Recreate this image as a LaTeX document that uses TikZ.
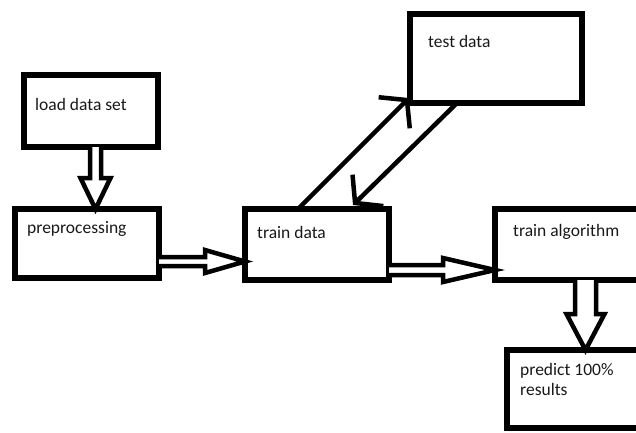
\documentclass[tikz,border=0pt]{standalone}
\usepackage{fontspec}
\setmainfont{Carlito}
\usetikzlibrary{calc,arrows.meta}
\tikzset{
  box/.style={draw=black, line width=5.5pt, minimum width=#1, inner sep=0pt, outer sep=0pt, rectangle},
  lbl/.style={anchor=base west, inner sep=0pt, font=\fontsize{17.5}{20}\selectfont, text=black!90, align=left},
  hollow/.style={draw=black, fill=white, line width=4.5pt, line join=miter},
  diag/.style={draw=black, line width=4.5pt, -{Straight Barb[length=18pt,width=44pt]}},
}
\newcommand\hollowdown[5]{%
  \draw[hollow] let \p1=(#1), \p2=(#2) in
    ({\x1-#3},{\y1}) -- ({\x1-#3},{\y2+#5}) -- ({\x1-#4},{\y2+#5}) -- ({\x1},{\y2})
    -- ({\x1+#4},{\y2+#5}) -- ({\x1+#3},{\y2+#5}) -- ({\x1+#3},{\y1});}
\newcommand\hollowright[5]{%
  \draw[hollow] let \p1=(#1), \p2=(#2) in
    ({\x1},{\y1+#3}) -- ({\x2-#5},{\y1+#3}) -- ({\x2-#5},{\y1+#4}) -- ({\x2},{\y1})
    -- ({\x2-#5},{\y1-#4}) -- ({\x2-#5},{\y1-#3}) -- ({\x1},{\y1-#3});}
\begin{document}
\begin{tikzpicture}[x=1pt,y=-1pt]
\useasboundingbox (0,0) rectangle (636,432);
\clip (0,0) rectangle (636,432);
\fill[white] (0,0) rectangle (636,432);
% boxes
\node[box=134pt, minimum height=72pt] (load) at (91,111) {};
\node[box=144pt, minimum height=69pt] (prep) at (87,243.5) {};
\node[box=144pt, minimum height=71pt] (train) at (317,244.5) {};
\node[box=172pt, minimum height=89pt] (test) at (496,58.5) {};
\node[box=165pt, minimum height=71pt] (algo) at (577.5,244.5) {};
\node[box=153pt, minimum height=78pt] (pred) at (583.5,389) {};
% labels
\node[lbl] (tload) at ($(load.north west)+(11,35)$) {load data set};
\node[lbl] (tprep) at ($(prep.north west)+(12,24)$) {preprocessing};
\node[lbl] (ttrain) at ($(train.north west)+(12,29)$) {train data};
\node[lbl] (ttest) at ($(test.north west)+(18,33)$) {test data};
\node[lbl] (talgo) at ($(algo.north west)+(18,27)$) {train algorithm};
\node[lbl] (tpred) at ($(pred.north west)+(13,45)$) {predict 100\%\\results};
% hollow arrows
\hollowdown{$(load.south)+(4.5,0)$}{prep.north}{5.5pt}{15pt}{31pt}
\hollowright{$(prep.east)+(0,18)$}{train.west}{4.5pt}{11.5pt}{40pt}
\hollowright{$(train.east)+(0,25.5)$}{algo.west}{5pt}{12pt}{52pt}
\hollowdown{$(algo.south west)+(90.5,0)$}{pred.north}{10.5pt}{19pt}{36pt}
% diagonal arrows
\draw[diag] ($(train.north west)+(53,0)$) -- ($(test.south west)+(-1,-5)$);
\draw[diag] ($(test.south west)+(47,0)$) -- ($(train.north west)+(108,-4)$);
\end{tikzpicture}
\end{document}
